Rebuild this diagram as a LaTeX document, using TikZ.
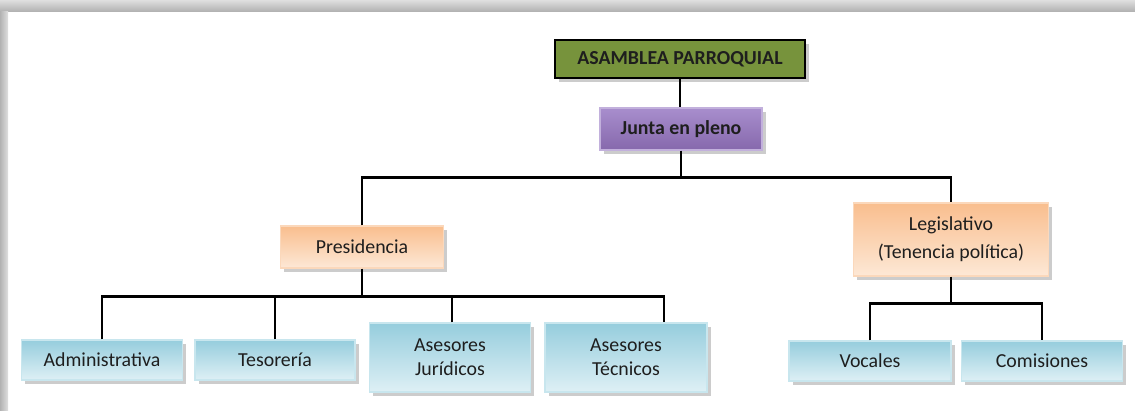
\documentclass[tikz,border=0pt]{standalone}
\usepackage{fontspec}
\setmainfont{Carlito}
\usetikzlibrary{shadows}

\definecolor{asamblea}{RGB}{119,147,60}
\definecolor{juntatop}{RGB}{168,142,205}
\definecolor{juntabot}{RGB}{134,104,172}
\definecolor{naranjaA}{RGB}{249,190,142}
\definecolor{naranjaB}{RGB}{253,232,214}
\definecolor{celesteA}{RGB}{150,205,221}
\definecolor{celesteB}{RGB}{222,240,245}
\definecolor{texto}{RGB}{30,30,30}

\begin{document}
\begin{tikzpicture}[x=0.02cm, y=-0.02cm,
    caja/.style={minimum width=#1*0.02cm, inner sep=0pt, align=center,
      text=texto, font=\fontsize{11.3}{13.5}\selectfont,
      drop shadow={shadow xshift=2pt, shadow yshift=-2pt, opacity=0.4}},
    azul/.style={caja=#1, minimum height=40*0.02cm, draw=celesteB!70!celesteA,
      line width=0.6pt, top color=celesteA, bottom color=celesteB},
    alto/.style={caja=#1, minimum height=69*0.02cm, draw=celesteB!70!celesteA,
      line width=0.6pt, top color=celesteA, bottom color=celesteB},
    naranja/.style={caja=#1, draw=naranjaA!60!white, line width=0.6pt,
      top color=naranjaA, bottom color=naranjaB},
    linea/.style={line width=1.2pt, black}]
  \useasboundingbox (0,0) rectangle (1135,410);
  % marco
  \shade[top color=gray!25, bottom color=gray!60] (0,0) rectangle (1135,11);
  \shade[left color=gray!60, right color=gray!25] (0,11) rectangle (8,410);

  \node[caja=250, minimum height=38*0.02cm, fill=asamblea, draw=black,
    line width=1.6pt, font=\bfseries\fontsize{11.3}{13.5}\selectfont]
    (asam) at (680,59) {ASAMBLEA PARROQUIAL};
  \node[caja=162, minimum height=42*0.02cm, draw=juntatop!70!white,
    line width=0.6pt, top color=juntatop, bottom color=juntabot,
    font=\bfseries\fontsize{11.3}{13.5}\selectfont]
    (junta) at (681,129) {Junta en pleno};
  \node[naranja=163, minimum height=42*0.02cm] (pres) at (362,247) {Presidencia};
  \node[naranja=195, minimum height=73*0.02cm,
    font=\fontsize{11.3}{16}\selectfont] (legis) at (951,239.5)
    {Legislativo\\(Tenencia política)};

  \node[azul=161] (admin) at (102,360) {Administrativa};
  \node[azul=160] (teso) at (275,360) {Tesorería};
  \node[alto=161] (jur) at (450,357.5) {Asesores\\Jurídicos};
  \node[alto=162] (tec) at (626,357.5) {Asesores\\Técnicos};
  \node[azul=162] (voc) at (870,361) {Vocales};
  \node[azul=161] (com) at (1042,361) {Comisiones};

  \draw[linea] (asam.south) -- (asam.south |- junta.north);
  \draw[linea] (junta.south) -- ++(0,27) coordinate (b1);
  \draw[linea] (pres.north) |- (b1) -| (legis.north);
  \draw[linea] (pres.south) -- ++(0,28) coordinate (b2);
  \draw[linea] (admin.north) |- (b2) -| ([xshift=0.76cm]tec.north);
  \draw[linea] (teso.north) -- (teso.north |- b2);
  \draw[linea] ([xshift=0.04cm]jur.north) -- ([xshift=0.04cm]jur.north |- b2);
  \draw[linea] (legis.south) -- ++(0,27) coordinate (b3);
  \draw[linea] (voc.north) |- (b3) -| (com.north);
\end{tikzpicture}
\end{document}
